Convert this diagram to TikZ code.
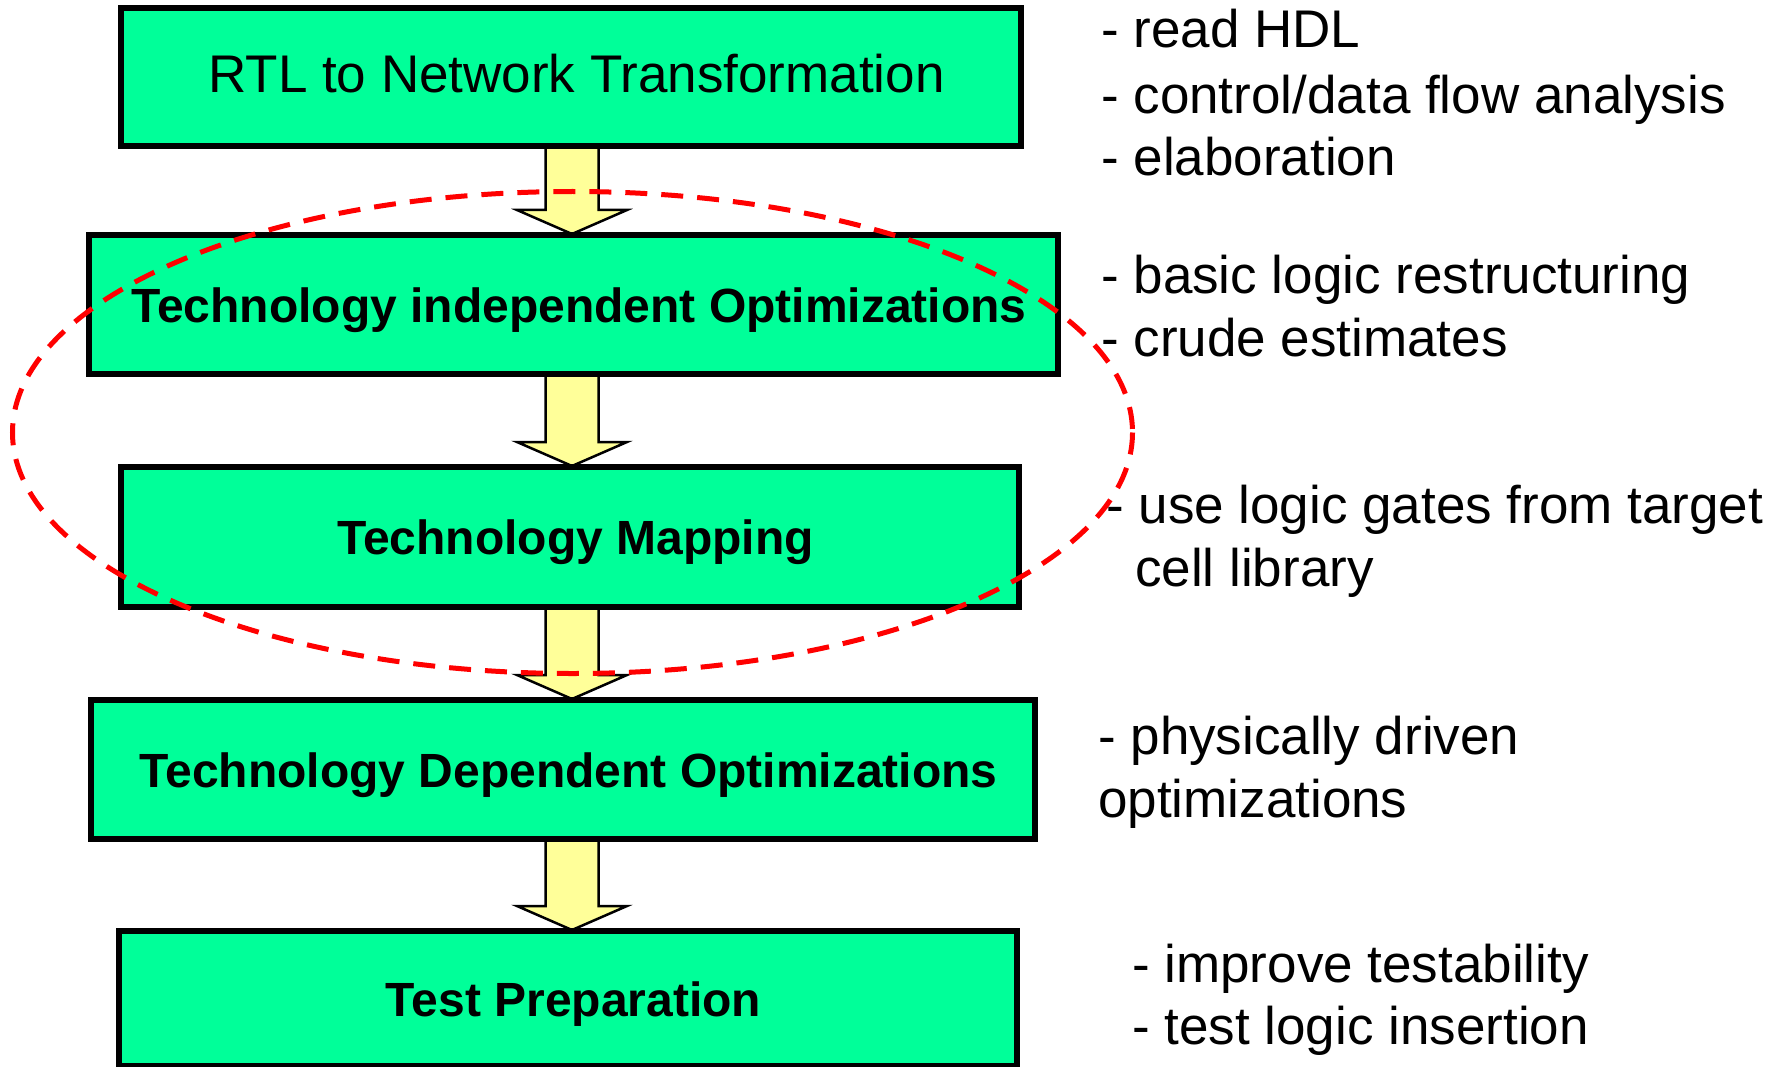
\documentclass[tikz,border=0pt]{standalone}
\usepackage{fontspec}
\setmainfont{Liberation Sans}
\usetikzlibrary{calc}
\definecolor{boxgreen}{HTML}{00FF99}
\definecolor{arrowyellow}{HTML}{FFFF99}
\definecolor{ovalred}{HTML}{FF0000}
\newcommand\flowarrow[2]{%
  \draw[flowarr]
    ($(ax |- #1.south)+(-26.5,0)$) -- ($(ax |- #2.north)+(-26.5,-24)$)
    -- ($(ax |- #2.north)+(-55,-24)$) -- (ax |- #2.north)
    -- ($(ax |- #2.north)+(55,-24)$) -- ($(ax |- #2.north)+(26.5,-24)$)
    -- ($(ax |- #1.south)+(26.5,0)$) -- cycle;}
\begin{document}
\begin{tikzpicture}[x=1pt,y=-1pt,
  stage/.style={draw=black, line width=4pt, fill=boxgreen, inner sep=0pt,
    font=\fontsize{48}{57}\selectfont\bfseries,
    text height=35pt, text depth=0pt,
    execute at begin node={\hspace*{11pt}}},
  flowarr/.style={draw=black, line width=2.5pt, fill=arrowyellow, line join=miter},
  note/.style={anchor=base west, inner sep=0pt, font=\fontsize{53}{63}\selectfont},
  oval/.style={draw=ovalred, line width=5pt, dash pattern=on 22pt off 14pt}]
\useasboundingbox (0,0) rectangle (1784,1067);
\coordinate (ax) at (572,0);

% boxes
\node[stage, minimum width=898pt, minimum height=136pt, font=\fontsize{53}{63}\selectfont, text height=35pt, text depth=3pt] (b1) at (571,77) {RTL to Network Transformation};
\node[stage, minimum width=967pt, minimum height=137pt] (b2) at (573.5,304.5) {Technology independent Optimizations};
\node[stage, minimum width=896pt, minimum height=138pt] (b3) at (570,537) {Technology Mapping};
\node[stage, minimum width=942pt, minimum height=137pt] (b4) at (563,769.5) {Technology Dependent Optimizations};
\node[stage, minimum width=896pt, minimum height=133pt] (b5) at (568,998.5) {Test Preparation};

% arrows
\flowarrow{b1}{b2}
\flowarrow{b2}{b3}
\flowarrow{b3}{b4}
\flowarrow{b4}{b5}

% box borders over the arrow ends
\foreach \b in {b1,b2,b3,b4,b5}{\draw[line width=4pt] (\b.south west) rectangle (\b.north east);}

% notes
\node[note] (n1a) at (1101,48) {- read HDL};
\node[note] (n1b) at (1101,114) {- control/data flow analysis};
\node[note] (n1c) at (1101,176) {- elaboration};
\node[note] (n2a) at (1101,293) {- basic logic restructuring};
\node[note] (n2b) at (1101,356) {- crude estimates};
\node[note] (n3a) at (1106,523) {- use logic gates from target};
\node[note] (n3b) at (1135,586) {cell library};
\node[note] (n4a) at (1098,754) {- physically driven};
\node[note] (n4b) at (1098,817) {optimizations};
\node[note] (n5a) at (1132,982) {- improve testability};
\node[note] (n5b) at (1132,1044) {- test logic insertion};

% dashed oval
\draw[oval] (572.5,432.5) ellipse [x radius=560, y radius=241];
\end{tikzpicture}
\end{document}
